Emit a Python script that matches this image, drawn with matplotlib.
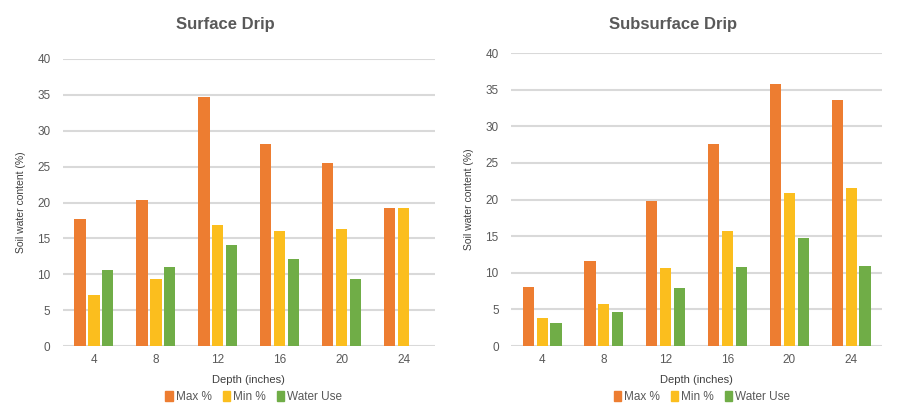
import matplotlib
matplotlib.use("Agg")
import matplotlib.pyplot as plt
from matplotlib.patches import Patch
import numpy as np

plt.rcParams['font.family'] = ['Liberation Sans', 'DejaVu Sans']

depths = ["4", "8", "12", "16", "20", "24"]
series = ["Max %", "Min %", "Water Use"]
colors = ["#ED7D31", "#FBBE1E", "#70AD47"]

surface_max = [17.7, 20.4, 34.7, 28.1, 25.5, 19.3]
surface_min = [7.1, 9.4, 16.9, 16.0, 16.3, 19.2]
surface_wu = [10.6, 11.0, 14.1, 12.1, 9.3, 0]

sub_max = [8.1, 11.6, 19.8, 27.6, 35.8, 33.6]
sub_min = [3.9, 5.8, 10.6, 15.7, 20.9, 21.6]
sub_wu = [3.1, 4.6, 8.0, 10.8, 14.8, 10.9]

fig = plt.figure(figsize=(9, 4.15), dpi=100)
ax1 = fig.add_axes([0.070, 0.166, 0.413, 0.692])
ax2 = fig.add_axes([0.568, 0.166, 0.412, 0.706])

grey = "#595959"

def draw(ax, data, title, title_x, legend_x):
    x = np.arange(len(depths))
    w = 0.18
    step = 0.225
    for i, (vals, c) in enumerate(zip(data, colors)):
        ax.bar(x + (i - 1) * step, vals, width=w, color=c, zorder=3)
    ax.set_xlim(-0.5, len(depths) - 0.5)
    ax.set_ylim(0, 40)
    ax.set_yticks(range(0, 41, 5))
    ax.set_xticks(x)
    ax.set_xticklabels(depths)
    ax.grid(axis='y', color="#D9D9D9", linewidth=1.5, zorder=0)
    for s in ax.spines.values():
        s.set_visible(False)
    ax.tick_params(length=0, labelsize=8.5, labelcolor=grey, pad=9)
    ax.tick_params(axis='x', pad=6)
    ax.set_ylabel("Soil water content (%)", fontsize=7.5, color="#404040", labelpad=8)
    ax.set_xlabel("Depth (inches)", fontsize=8, color="#404040", labelpad=6)
    handles = [Patch(color=c) for c in colors]
    fig.legend(handles, series, loc='center', bbox_to_anchor=(legend_x, 0.044),
               ncol=3, frameon=False, fontsize=8.5, handlelength=0.6, handleheight=0.9,
               handletextpad=0.3, columnspacing=0.9, labelcolor=grey)
    fig.text(title_x, 0.94, title, ha='center', va='center', fontsize=12,
             fontweight='bold', color=grey)

draw(ax1, [surface_max, surface_min, surface_wu], "Surface Drip", 0.250, 0.282)
draw(ax2, [sub_max, sub_min, sub_wu], "Subsurface Drip", 0.748, 0.780)

fig.savefig("out.png", dpi=100)
